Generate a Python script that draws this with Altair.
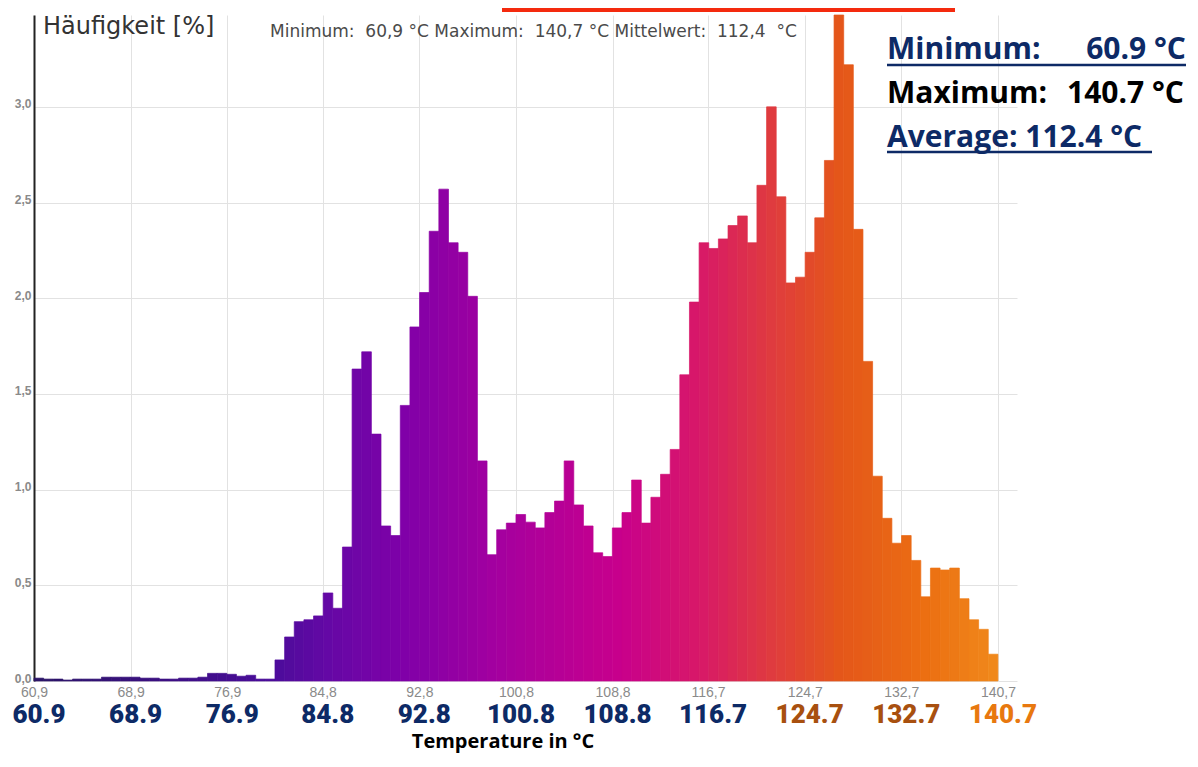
import altair as alt
import pandas as pd
import numpy as np

# ---- data ----
t_min, t_max = 60.9, 140.7
freq = [0.015, 0.01, 0.01, 0.005, 0.01, 0.01, 0.01, 0.02, 0.02, 0.02,
        0.02, 0.015, 0.015, 0.01, 0.01, 0.015, 0.015, 0.02, 0.04, 0.04,
        0.035, 0.025, 0.03, 0.01, 0.01, 0.11, 0.23, 0.31, 0.32, 0.34,
        0.46, 0.38, 0.70, 1.63, 1.72, 1.29, 0.81, 0.76, 1.44, 1.85,
        2.03, 2.35, 2.57, 2.29, 2.24, 2.01, 1.15, 0.66, 0.79, 0.825,
        0.87, 0.83, 0.80, 0.88, 0.94, 1.15, 0.92, 0.81, 0.67, 0.65,
        0.80, 0.88, 1.05, 0.825, 0.96, 1.08, 1.21, 1.60, 1.98, 2.29,
        2.26, 2.31, 2.38, 2.43, 2.29, 2.59, 3.00, 2.53, 2.08, 2.11,
        2.24, 2.42, 2.72, 3.48, 3.22, 2.36, 1.67, 1.07, 0.85, 0.72,
        0.76, 0.63, 0.44, 0.59, 0.58, 0.59, 0.43, 0.32, 0.27, 0.14]
x_ticks = [60.9, 68.9, 76.9, 84.8, 92.8, 100.8, 108.8, 116.7, 124.7, 132.7, 140.7]
y_ticks = [0.0, 0.5, 1.0, 1.5, 2.0, 2.5, 3.0]
header_text = "Minimum:\u00a0 60,9 °C Maximum:\u00a0 140,7 °C Mittelwert:\u00a0 112,4 \u00a0°C"
y_title = "Häufigkeit [%]"
x_title = "Temperature in °C"

# ---- styles ----
NAVY = "#0d2a66"
BROWN = "#a8500f"
ORANGE = "#e8780f"
palette_domain = [60.9, 80.5, 85.4, 91.2, 99.5, 109.4, 116.0, 121.8, 127.6, 135.1, 140.7]
palette_range = ["#2a1466", "#4a0c9a", "#6508a5", "#7e00a8", "#a5009f", "#c8008c",
                 "#d81868", "#df3a40", "#e4561a", "#ec7012", "#f08a1c"]

n = len(freq)
edges = np.linspace(t_min, t_max, n + 1)
df = pd.DataFrame({"lo": edges[:-1], "hi": edges[1:], "freq": freq})
df["mid"] = (df["lo"] + df["hi"]) / 2
df["base"] = 0.0

W, H = 983, 666
x_scale = alt.Scale(domain=[t_min, 142.28], nice=False, zero=False)
y_scale = alt.Scale(domain=[0, 3.48], nice=False)
pal = alt.Scale(domain=palette_domain, range=palette_range, interpolate="rgb")

bars = alt.Chart(df).mark_rect(strokeWidth=0.7).encode(
    x=alt.X("lo:Q", scale=x_scale, axis=alt.Axis(
        values=x_ticks, labelExpr="replace(format(datum.value, '.1f'), '.', ',')",
        grid=True, gridColor="#e2e2e2", domain=False, ticks=False,
        labelColor="#8a8a8a", labelFont="Liberation Sans", labelFontSize=14,
        labelPadding=4, labelFlush=False, labelOverlap=False, title=None)),
    x2="hi:Q",
    y=alt.Y("freq:Q", scale=y_scale, axis=alt.Axis(
        values=y_ticks, labelExpr="replace(format(datum.value, '.1f'), '.', ',')",
        grid=True, gridColor="#e2e2e2", domain=True, domainColor="#222222",
        domainWidth=2, ticks=False, labelColor="#8a8a8a", labelFont="Liberation Sans",
        labelFontSize=12, labelFontWeight="bold", labelPadding=3, labelOffset=-3,
        title=None)),
    y2="base:Q",
    color=alt.Color("mid:Q", scale=pal, legend=None),
    stroke=alt.Stroke("mid:Q", scale=pal, legend=None),
)

lab_df = pd.DataFrame({"v": x_ticks, "lab": [f"{v:.1f}" for v in x_ticks]})
big_labels = alt.Chart(lab_df).transform_calculate(
    col=f"datum.v >= 140 ? '{ORANGE}' : (datum.v >= 124 ? '{BROWN}' : '{NAVY}')"
).mark_text(font="Roboto", fontWeight=900, fontSize=26, baseline="alphabetic",
            align="center", dx=5).encode(
    x=alt.X("v:Q", scale=x_scale),
    y=alt.value(708),
    text="lab:N",
    color=alt.Color("col:N", scale=None),
)

one = pd.DataFrame({"a": [0]})

def label(txt, x, y, **kw):
    return alt.Chart(one).mark_text(**kw).encode(
        x=alt.value(x), y=alt.value(y), text=alt.value(txt))

def line(x1, x2, y, color, width):
    return alt.Chart(one).mark_rule(color=color, strokeWidth=width).encode(
        x=alt.value(x1), x2=alt.value(x2), y=alt.value(y))

texts = [
    label(y_title, 9, 19, font="DejaVu Sans", fontSize=24, color="#333333",
          align="left", baseline="alphabetic"),
    label(header_text, 236, 22, font="DejaVu Sans", fontSize=17, color="#4a4a4a",
          align="left", baseline="alphabetic"),
    label(x_title, 469, 733, font="Open Sans", fontWeight="bold", fontSize=20,
          color="#000000", align="center", baseline="alphabetic"),
    label("Minimum:", 853, 44, font="Open Sans", fontWeight="bold", fontSize=30,
          color=NAVY, align="left", baseline="alphabetic"),
    label("60.9 °C", 1152, 44, font="Open Sans", fontWeight="bold", fontSize=30,
          color=NAVY, align="right", baseline="alphabetic"),
    label("Maximum:", 853, 88, font="Open Sans", fontWeight="bold", fontSize=30,
          color="#000000", align="left", baseline="alphabetic"),
    label("140.7 °C", 1150, 88, font="Open Sans", fontWeight="bold", fontSize=30,
          color="#000000", align="right", baseline="alphabetic"),
    label("Average: 112.4 °C", 853, 132, font="Open Sans", fontWeight="bold",
          fontSize=30, color=NAVY, align="left", baseline="alphabetic"),
    line(853, 1152, 50, NAVY, 2.5),
    line(853, 1118, 137, NAVY, 2.5),
    line(468, 921, -5, "#f42a0e", 4),
]

chart = alt.layer(bars, big_labels, *texts).resolve_scale(
    color="independent", stroke="independent"
).properties(
    width=W, height=H,
    padding={"left": 26, "top": 7, "right": 173, "bottom": 76},
    autosize=alt.AutoSizeParams(type="none"),
).configure_view(stroke=None)

chart.save("out.html", embed_options={"renderer": "svg", "actions": False})
